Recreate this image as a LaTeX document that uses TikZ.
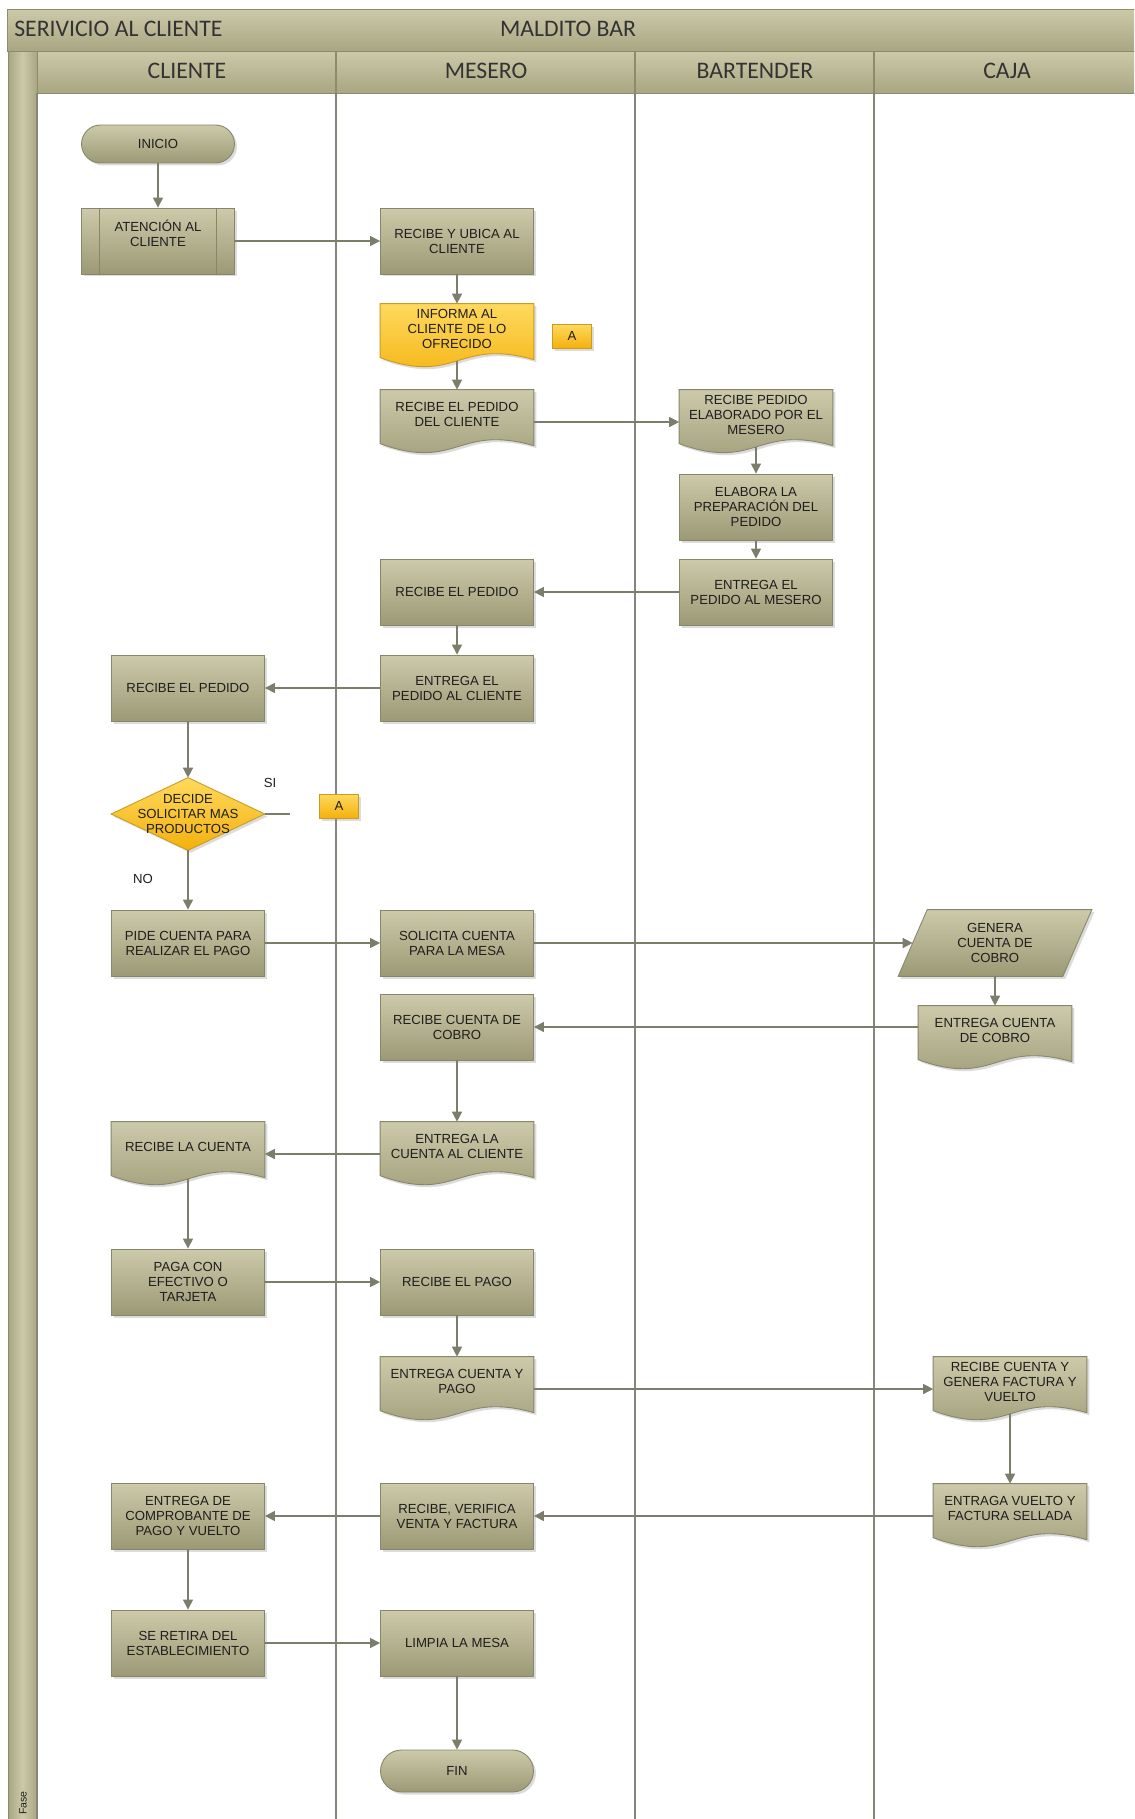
\documentclass[tikz,border=0pt]{standalone}
\usepackage{fontspec}
\setmainfont{Liberation Sans}
\newfontfamily\hdrfont{Carlito}
\usetikzlibrary{arrows.meta,calc,shadows}
\pgfdeclarelayer{background}
\pgfsetlayers{background,main}
\definecolor{boxtop}{HTML}{CCCAAA}
\definecolor{boxbot}{HTML}{9C9975}
\definecolor{boxline}{HTML}{87866A}
\definecolor{yeltop}{HTML}{FFD95E}
\definecolor{yelbot}{HTML}{F3B10C}
\definecolor{yelline}{HTML}{C89B22}
\definecolor{lanecol}{HTML}{85857C}
\definecolor{arrcol}{HTML}{7D7D6C}
\definecolor{bartop}{HTML}{CBC9A8}
\definecolor{barbot}{HTML}{A9A782}
\definecolor{barline}{HTML}{8D8B6C}
\definecolor{txt}{HTML}{1E1E1E}
\definecolor{hdrtxt}{HTML}{333333}
\tikzset{
  boxtxt/.style={font=\fontsize{7.5}{8.5}\selectfont, text=txt, align=center},
  shade olive/.style={top color=boxtop, bottom color=boxbot, draw=boxline, line width=0.5pt},
  shade yellow/.style={top color=yeltop, bottom color=yelbot, draw=yelline, line width=0.5pt},
  shadowed/.style={drop shadow={shadow xshift=0.05cm, shadow yshift=-0.05cm, opacity=0.3, fill=black!45}},
  proc/.style={rectangle, boxtxt, shade olive, shadowed, minimum width=3.06cm, minimum height=1.32cm, inner sep=1pt},
  docn/.style={rectangle, boxtxt, minimum width=3.06cm, minimum height=1.28cm, inner xsep=2pt, inner ysep=0pt},
  term/.style={rectangle, boxtxt, shade olive, shadowed, minimum width=3.06cm, minimum height=0.76cm, rounded corners=0.38cm},
  conn/.style={rectangle, boxtxt, shade yellow, shadowed, minimum width=0.78cm, minimum height=0.48cm, inner sep=0pt},
  shapeonly/.style={rectangle, boxtxt, inner sep=0pt},
  hdr/.style={font=\hdrfont\fontsize{13.5}{15}\selectfont, text=hdrtxt, inner sep=0pt},
  lbl/.style={font=\fontsize{7.5}{8.5}\selectfont, text=txt, inner sep=0pt},
  lane/.style={draw=lanecol, line width=0.9pt},
  arr/.style={draw=arrcol, line width=0.8pt, -{Triangle[length=0.2cm,width=0.2cm]}},
  plain/.style={draw=arrcol, line width=0.8pt},
}
\newcommand\docpath[2]{%
  \path[#2] (#1.north west) -- (#1.north east) -- ($(#1.north east)+(0,56)$)
    .. controls ($(#1.north)+(0,34)$) and ($(#1.north)+(0,82)$) .. ($(#1.north west)+(0,54)$) -- cycle;}
\begin{document}
\begin{tikzpicture}[x=0.02cm,y=-0.02cm]
\begin{pgfonlayer}{background}
\fill[white] (0,0) rectangle (1134,1819);
\end{pgfonlayer}
\useasboundingbox (0,0) rectangle (1134,1819);
\clip (0,0) rectangle (1134,1819);

% frame, title and lane headers
\path[draw=barline, top color=bartop, bottom color=barbot] (7,9) rectangle (1140,51);
\path[draw=barline, top color=bartop, bottom color=barbot] (37,51) rectangle (1140,93);
\path[draw=barline, left color=barbot, right color=barbot, middle color=bartop] (8,51) rectangle (37,1830);
\draw[barline, line width=0.7pt] (336,51) -- (336,93) (635,51) -- (635,93) (874,51) -- (874,93);
\node[hdr, anchor=west] (ttl) at (14,29) {SERIVICIO AL CLIENTE};
\node[hdr] (bar) at (568,29) {MALDITO BAR};
\node[hdr] (hcli) at (187,71) {CLIENTE};
\node[hdr] (hmes) at (486,71) {MESERO};
\node[hdr] (hbar) at (755,71) {BARTENDER};
\node[hdr] (hcaj) at (1007,71) {CAJA};
\node[lbl, font=\fontsize{6}{7}\selectfont, rotate=90, anchor=west] (fase) at (23,1815) {Fase};

% lanes
\draw[lane] (37,93) -- (37,1819);
\draw[lane] (336,93) -- (336,1819);
\draw[lane] (635,93) -- (635,1819);
\draw[lane] (874,93) -- (874,1819);

% CLIENTE
\node[term] (ini) at (158,144) {INICIO};
\node[proc] (atc) at (158,241) {ATENCIÓN AL\\CLIENTE\\\mbox{}};
\draw[boxline, line width=0.5pt] ($(atc.north west)+(18,0)$) -- ($(atc.south west)+(18,0)$)
  ($(atc.north east)+(-18,0)$) -- ($(atc.south east)+(-18,0)$);
\node[proc] (rpc) at (188,688) {RECIBE EL PEDIDO};
\node[shapeonly, minimum width=3.06cm, minimum height=1.44cm] (dec) at (188,814) {DECIDE\\SOLICITAR MAS\\PRODUCTOS};
\coordinate (stub) at (290,814);
\node[lbl] (si) at (270,783) {SI};
\node[lbl] (no) at (143,879) {NO};
\node[proc] (pid) at (188,943) {PIDE CUENTA PARA\\REALIZAR EL PAGO};
\node[docn] (rlc) at (188,1154) {RECIBE LA CUENTA\\\mbox{}};
\node[proc] (pag) at (188,1282) {PAGA CON\\EFECTIVO O\\TARJETA};
\node[proc] (ecp) at (188,1516) {ENTREGA DE\\COMPROBANTE DE\\PAGO Y VUELTO};
\node[proc] (ser) at (188,1643) {SE RETIRA DEL\\ESTABLECIMIENTO};

% MESERO
\node[proc] (rub) at (457,241) {RECIBE Y UBICA AL\\CLIENTE};
\node[docn] (inf) at (457,336) {INFORMA AL\\CLIENTE DE LO\\OFRECIDO\\\mbox{}};
\node[conn] (a1) at (572,336) {A};
\node[docn] (rdc) at (457,422) {RECIBE EL PEDIDO\\DEL CLIENTE\\\mbox{}};
\node[proc] (rep) at (457,592) {RECIBE EL PEDIDO};
\node[proc] (epc) at (457,688) {ENTREGA EL\\PEDIDO AL CLIENTE};
\node[conn] (a2) at (339,806) {A};
\node[proc] (sol) at (457,943) {SOLICITA CUENTA\\PARA LA MESA};
\node[proc] (rcc) at (457,1027) {RECIBE CUENTA DE\\COBRO};
\node[docn] (ecl) at (457,1154) {ENTREGA LA\\CUENTA AL CLIENTE\\\mbox{}};
\node[proc] (rpa) at (457,1282) {RECIBE EL PAGO};
\node[docn] (ecy) at (457,1389) {ENTREGA CUENTA Y\\PAGO\\\mbox{}};
\node[proc] (rvf) at (457,1516) {RECIBE, VERIFICA\\VENTA Y FACTURA};
\node[proc] (lim) at (457,1643) {LIMPIA LA MESA};
\node[term, minimum height=0.84cm, rounded corners=0.42cm] (fin) at (457,1771) {FIN};

% BARTENDER
\node[docn] (rpe) at (756,422) {RECIBE PEDIDO\\ELABORADO POR EL\\MESERO\\\mbox{}};
\node[proc] (ela) at (756,507) {ELABORA LA\\PREPARACIÓN DEL\\PEDIDO};
\node[proc] (epm) at (756,592) {ENTREGA EL\\PEDIDO AL MESERO};

% CAJA
\node[shapeonly, minimum width=3.86cm, minimum height=1.32cm] (gen) at (995,943) {GENERA\\CUENTA DE\\COBRO};
\node[docn] (ecc) at (995,1038) {ENTREGA CUENTA\\DE COBRO\\\mbox{}};
\node[docn] (rcg) at (1010,1389) {RECIBE CUENTA Y\\GENERA FACTURA Y\\VUELTO\\\mbox{}};
\node[docn] (evf) at (1010,1516) {ENTRAGA VUELTO Y\\FACTURA SELLADA\\\mbox{}};

% custom shapes behind their texts
\begin{pgfonlayer}{background}
\docpath{inf}{shade yellow, shadowed}
\docpath{rdc}{shade olive, shadowed}
\docpath{rpe}{shade olive, shadowed}
\docpath{rlc}{shade olive, shadowed}
\docpath{ecl}{shade olive, shadowed}
\docpath{ecy}{shade olive, shadowed}
\docpath{ecc}{shade olive, shadowed}
\docpath{rcg}{shade olive, shadowed}
\docpath{evf}{shade olive, shadowed}
\path[shade yellow, shadowed] (dec.west) -- (dec.north) -- (dec.east) -- (dec.south) -- cycle;
\path[shade olive, shadowed] ($(gen.north west)+(29,0)$) -- (gen.north east)
  -- ($(gen.south east)+(-29,0)$) -- (gen.south west) -- cycle;
\end{pgfonlayer}

% connectors
\draw[arr] (ini) -- (atc);
\draw[arr] (atc) -- (rub);
\draw[arr] (rub) -- (inf);
\draw[arr] ($(inf.south)+(0,-7)$) -- (rdc);
\draw[arr] (rdc) -- (rpe);
\draw[arr] ($(rpe.south)+(0,-7)$) -- (ela);
\draw[arr] (ela) -- (epm);
\draw[arr] (epm) -- (rep);
\draw[arr] (rep) -- (epc);
\draw[arr] (epc) -- (rpc);
\draw[arr] (rpc) -- (dec.north);
\draw[plain] (dec.east) -- (stub);
\draw[arr] (dec.south) -- (pid);
\draw[arr] (pid) -- (sol);
\draw[arr] (sol) -- ($(gen.west)+(14.5,0)$);
\draw[arr] (gen) -- (ecc);
\draw[arr] (ecc.west |- rcc.east) -- (rcc.east);
\draw[arr] (rcc) -- (ecl);
\draw[arr] (ecl) -- (rlc);
\draw[arr] ($(rlc.south)+(0,-7)$) -- (pag);
\draw[arr] (pag) -- (rpa);
\draw[arr] (rpa) -- (ecy);
\draw[arr] (ecy) -- (rcg);
\draw[arr] ($(rcg.south)+(0,-7)$) -- (evf);
\draw[arr] (evf) -- (rvf);
\draw[arr] (rvf) -- (ecp);
\draw[arr] (ecp) -- (ser);
\draw[arr] (ser) -- (lim);
\draw[arr] (lim) -- (fin);
\end{tikzpicture}
\end{document}
